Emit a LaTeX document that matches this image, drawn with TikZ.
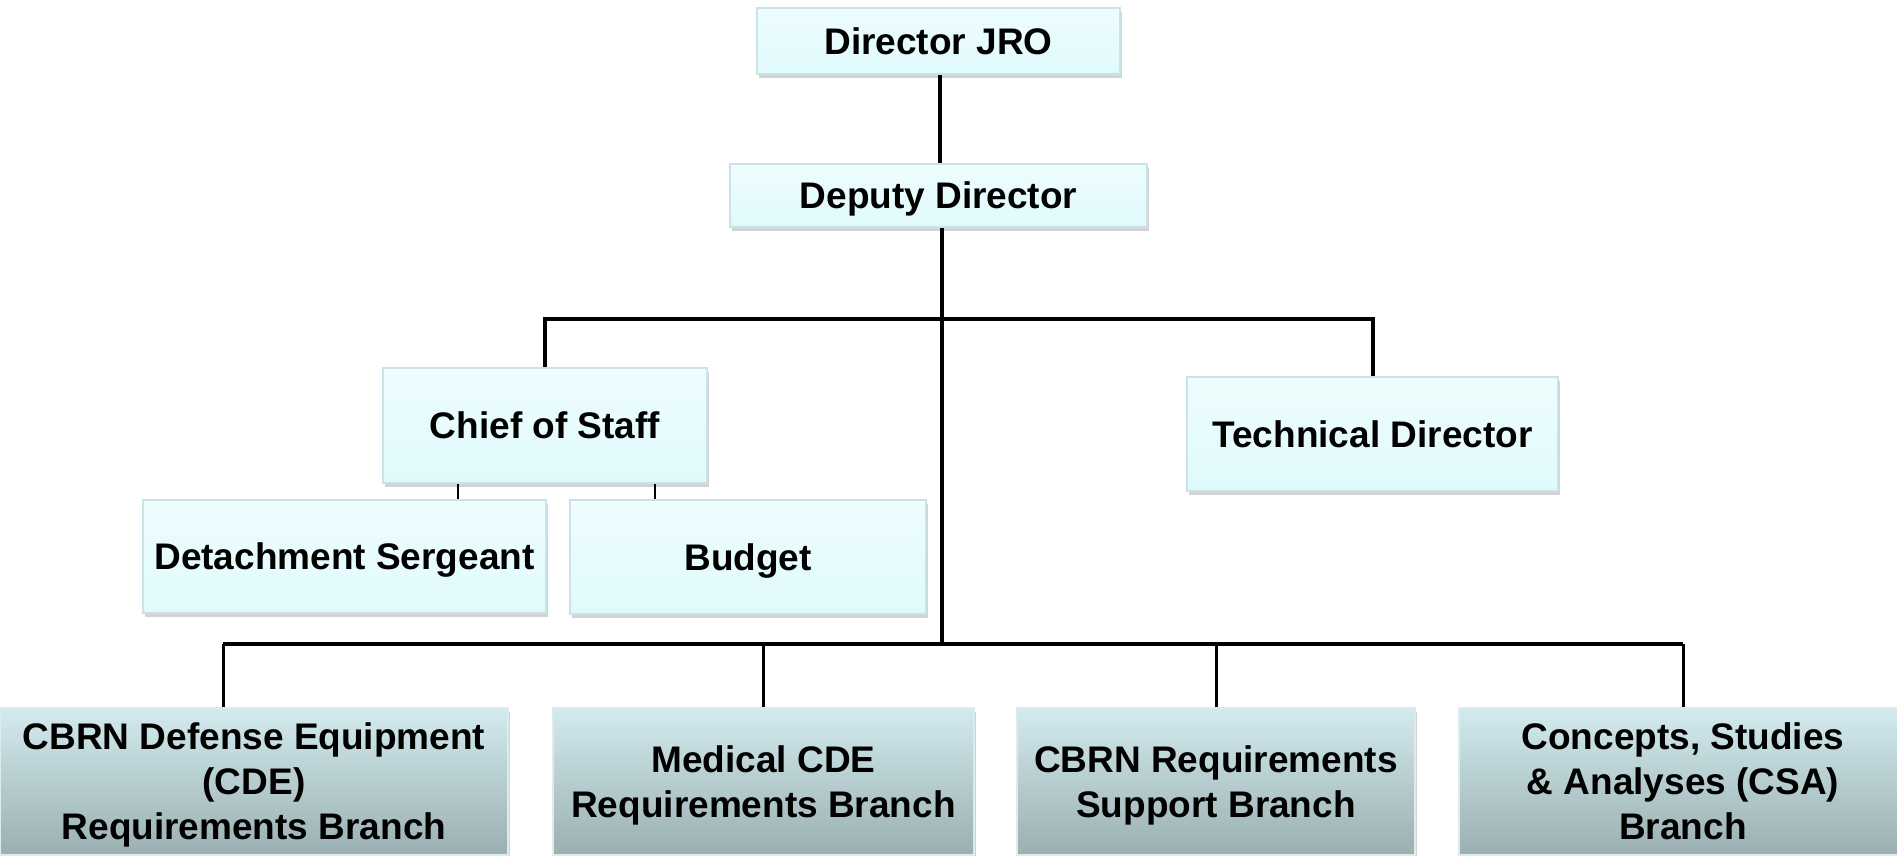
\documentclass[tikz,border=0pt]{standalone}
\usepackage{fontspec}
\setmainfont{Liberation Sans}
\usetikzlibrary{shadows}
\definecolor{paletop}{RGB}{238,253,254}
\definecolor{palebottom}{RGB}{224,250,252}
\definecolor{paleline}{RGB}{200,228,232}
\definecolor{branchtop}{RGB}{211,235,239}
\definecolor{branchbottom}{RGB}{154,175,177}
\definecolor{branchline}{RGB}{222,234,235}

\begin{document}
\begin{tikzpicture}[x=1pt, y=-1pt,
    office/.style={draw=paleline, line width=1.5pt, top color=paletop, bottom color=palebottom, inner sep=0pt, align=center, text depth=0pt, font=\bfseries\fontsize{37}{45}\selectfont, drop shadow={shadow xshift=2pt, shadow yshift=-4pt, opacity=.35}},
    branch/.style={office, draw=branchline, top color=branchtop, bottom color=branchbottom},
    connector/.style={line width=4pt},
    link/.style={line width=1.5pt}]
    \useasboundingbox (0,0) rectangle (1897,855);
    %% Top of the chart
    \node[office, minimum width=363pt, minimum height=66pt] (director) at (938.5,41) {Director JRO};
    \node[office, minimum width=417pt, minimum height=63pt] (deputy) at (938.5,195.5) {Deputy Director};
    \node[office, minimum width=324pt, minimum height=115pt] (chief) at (545,425.5) {Chief of Staff};
    \node[office, minimum width=371pt, minimum height=114pt] (tech) at (1372.5,434) {Technical Director};
    \node[office, minimum width=403pt, minimum height=113pt] (sergeant) at (344.5,556.5) {Detachment Sergeant};
    \node[office, minimum width=356pt, minimum height=114pt] (budget) at (748,557) {Budget};
    %% Branches
    \node[branch, minimum width=508pt, minimum height=147pt] (cde) at (254,781.5) {CBRN Defense Equipment\\(CDE)\\Requirements Branch};
    \node[branch, minimum width=421pt, minimum height=147pt] (medical) at (763.5,781.5) {Medical CDE\\Requirements Branch};
    \node[branch, minimum width=398pt, minimum height=147pt] (support) at (1216,781.5) {CBRN Requirements\\Support Branch};
    \node[branch, minimum width=448pt, minimum height=147pt] (csa) at (1683,781.5) {Concepts, Studies\\\& Analyses (CSA)\\Branch};
    %% Lines
    \coordinate (highbar) at (942,319);
    \coordinate (lowbar) at (942,644);
    \draw[connector] ([xshift=1.5pt]director.south) -- ([xshift=1.5pt]director.south |- deputy.north);
    \draw[connector] ([xshift=3.5pt]deputy.south) -- ([xshift=3.5pt]deputy.south |- lowbar);
    \draw[connector] (chief.north) -- (chief.north |- highbar) -- (tech.north |- highbar) -- (tech.north);
    \coordinate (cdedrop) at ([xshift=-31pt]cde.north);
    \draw[connector] (cdedrop |- lowbar) -- (csa.north |- lowbar);
    \draw[line width=3pt] (cdedrop) -- (cdedrop |- lowbar);
    \foreach \b in {medical,support,csa}
        \draw[line width=3pt] (\b.north) -- (\b.north |- lowbar);
    \coordinate (sergeantlink) at ([xshift=-87pt]chief.south);
    \coordinate (budgetlink) at ([xshift=110pt]chief.south);
    \draw[link] (sergeantlink) -- (sergeantlink |- sergeant.north);
    \draw[link] (budgetlink) -- (budgetlink |- budget.north);
\end{tikzpicture}
\end{document}
